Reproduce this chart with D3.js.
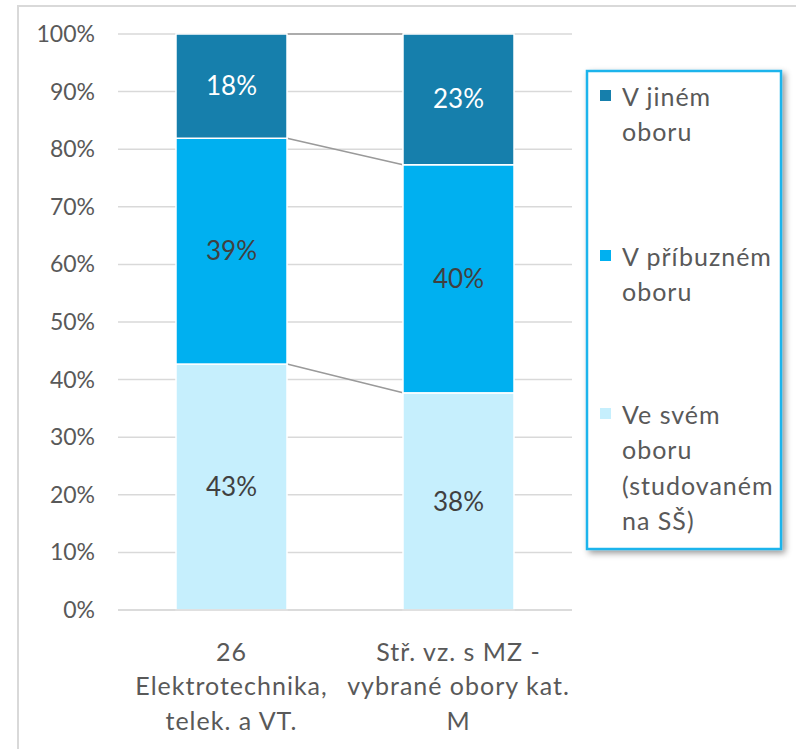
<!DOCTYPE html>
<html>
<head>
<meta charset="utf-8">
<script src="https://cdn.jsdelivr.net/npm/d3@7"></script>
<style>
  html, body { margin: 0; padding: 0; background: #fff; }
  svg { display: block; font-family: Lato, "Open Sans", sans-serif; }
</style>
</head>
<body>
<svg width="796" height="749"></svg>
<script>
// Categories (x axis), each label split into lines.
const categories = ['cat1', 'cat2'];
const categoryLines = [
  ['26', 'Elektrotechnika,', 'telek. a VT.'],
  ['Stř. vz. s MZ -', 'vybrané obory kat.', 'M'],
];

// Series, bottom to top.
const seriesKeys = ['svem', 'pribuznem', 'jinem'];
const svemValues = [0.427, 0.377];
const pribuznemValues = [0.392, 0.396];
const jinemValues = [0.181, 0.227];
const valueLabels = [['43%', '39%', '18%'], ['38%', '40%', '23%']];

const legendLines = [
  ['V jiném', 'oboru'],
  ['V příbuzném', 'oboru'],
  ['Ve svém', 'oboru', '(studovaném', 'na SŠ)'],
];

const yTicks = [0, 0.1, 0.2, 0.3, 0.4, 0.5, 0.6, 0.7, 0.8, 0.9, 1];

const COLORS = {
  svem: '#c6effd',
  pribuznem: '#00b0f0',
  jinem: '#167fac',
};
const LABEL_COLORS = {svem: '#404040', pribuznem: '#404040', jinem: '#ffffff'};

const rows = categories.map((c, i) => ({
  cat: c,
  svem: svemValues[i],
  pribuznem: pribuznemValues[i],
  jinem: jinemValues[i],
}));

const svg = d3.select('svg');

// Defs: shadow for the legend box.
const defs = svg.append('defs');
const filter = defs.append('filter').attr('id', 'shadow')
    .attr('x', '-20%').attr('y', '-20%').attr('width', '140%').attr('height', '140%');
filter.append('feDropShadow')
    .attr('dx', 3).attr('dy', 3).attr('stdDeviation', 3)
    .attr('flood-color', '#000').attr('flood-opacity', 0.4);

// Outer chart border.
svg.append('rect')
    .attr('x', 18).attr('y', 6)
    .attr('width', 800).attr('height', 800)
    .attr('fill', '#fff')
    .attr('stroke', '#d9d9d9').attr('stroke-width', 2);

const x = d3.scaleBand()
    .domain(categories)
    .range([118, 572])
    .paddingInner(0.511)
    .paddingOuter(0.2555);

const y = d3.scaleLinear().domain([0, 1]).range([610, 34]);

// Gridlines.
svg.append('g')
    .selectAll('line')
    .data(yTicks)
    .join('line')
    .attr('x1', 118).attr('x2', 572)
    .attr('y1', d => y(d)).attr('y2', d => y(d))
    .attr('stroke', '#d9d9d9').attr('stroke-width', 1.5);

// Y axis tick labels.
svg.append('g')
    .selectAll('text')
    .data(yTicks)
    .join('text')
    .attr('x', 95)
    .attr('y', d => y(d))
    .attr('dy', '0.35em')
    .attr('text-anchor', 'end')
    .attr('font-size', 23)
    .attr('fill', '#595959')
    .text(d => d3.format('.0%')(d));

const stacked = d3.stack().keys(seriesKeys)(rows);

// Series connector lines between bars.
const connectors = stacked.map(s => s.map(d => d[1]));
svg.append('g')
    .selectAll('line')
    .data(connectors)
    .join('line')
    .attr('x1', x(categories[0]) + x.bandwidth())
    .attr('x2', x(categories[1]))
    .attr('y1', d => y(d[0]))
    .attr('y2', d => y(d[1]))
    .attr('stroke', '#9a9a9a').attr('stroke-width', 1.6);

// Bars.
const seriesGroups = svg.append('g')
    .selectAll('g')
    .data(stacked)
    .join('g')
    .attr('fill', d => COLORS[d.key]);

seriesGroups.selectAll('rect')
    .data(d => d)
    .join('rect')
    .attr('x', d => x(d.data.cat))
    .attr('y', d => y(d[1]))
    .attr('width', x.bandwidth())
    .attr('height', d => y(d[0]) - y(d[1]))
    .attr('stroke', '#fff').attr('stroke-width', 1.5);

// Data labels.
stacked.forEach((s, si) => {
  svg.append('g')
      .selectAll('text')
      .data(s)
      .join('text')
      .attr('x', d => x(d.data.cat) + x.bandwidth() / 2)
      .attr('y', d => y((d[0] + d[1]) / 2))
      .attr('dy', '0.35em')
      .attr('text-anchor', 'middle')
      .attr('font-size', 26)
      .attr('fill', LABEL_COLORS[s.key])
      .text((d, i) => valueLabels[i][si]);
});

// Baseline axis.
svg.append('line')
    .attr('x1', 118).attr('x2', 572)
    .attr('y1', y(0)).attr('y2', y(0))
    .attr('stroke', '#d9d9d9').attr('stroke-width', 1.5);

// Category labels.
const catLabels = svg.append('g')
    .selectAll('text')
    .data(categories)
    .join('text')
    .attr('text-anchor', 'middle')
    .attr('font-size', 25)
    .attr('letter-spacing', 1)
    .attr('fill', '#595959');
catLabels.selectAll('tspan')
    .data((d, i) => categoryLines[i].map(t => ({t, cat: d})))
    .join('tspan')
    .attr('x', d => x(d.cat) + x.bandwidth() / 2)
    .attr('y', (d, i) => 652 + i * 34.5)
    .attr('dy', '0.35em')
    .text(d => d.t);

// Legend.
const legend = svg.append('g');
legend.append('rect')
    .attr('x', 587).attr('y', 71)
    .attr('width', 194).attr('height', 478)
    .attr('fill', '#fff')
    .attr('stroke', '#1fb4ec').attr('stroke-width', 2.5)
    .attr('filter', 'url(#shadow)');

const legendKeys = ['jinem', 'pribuznem', 'svem'];
const legendTop = [97, 257, 415];
legendKeys.forEach((k, i) => {
  legend.append('rect')
      .attr('x', 600).attr('y', legendTop[i] - 7)
      .attr('width', 11).attr('height', 11)
      .attr('fill', COLORS[k]);
  legend.append('g')
      .selectAll('text')
      .data(legendLines[i])
      .join('text')
      .attr('x', 622)
      .attr('y', (d, j) => legendTop[i] + j * 35.5)
      .attr('dy', '0.35em')
      .attr('font-size', 25)
      .attr('letter-spacing', 1)
      .attr('fill', '#595959')
      .text(d => d);
});
</script>
</body>
</html>
